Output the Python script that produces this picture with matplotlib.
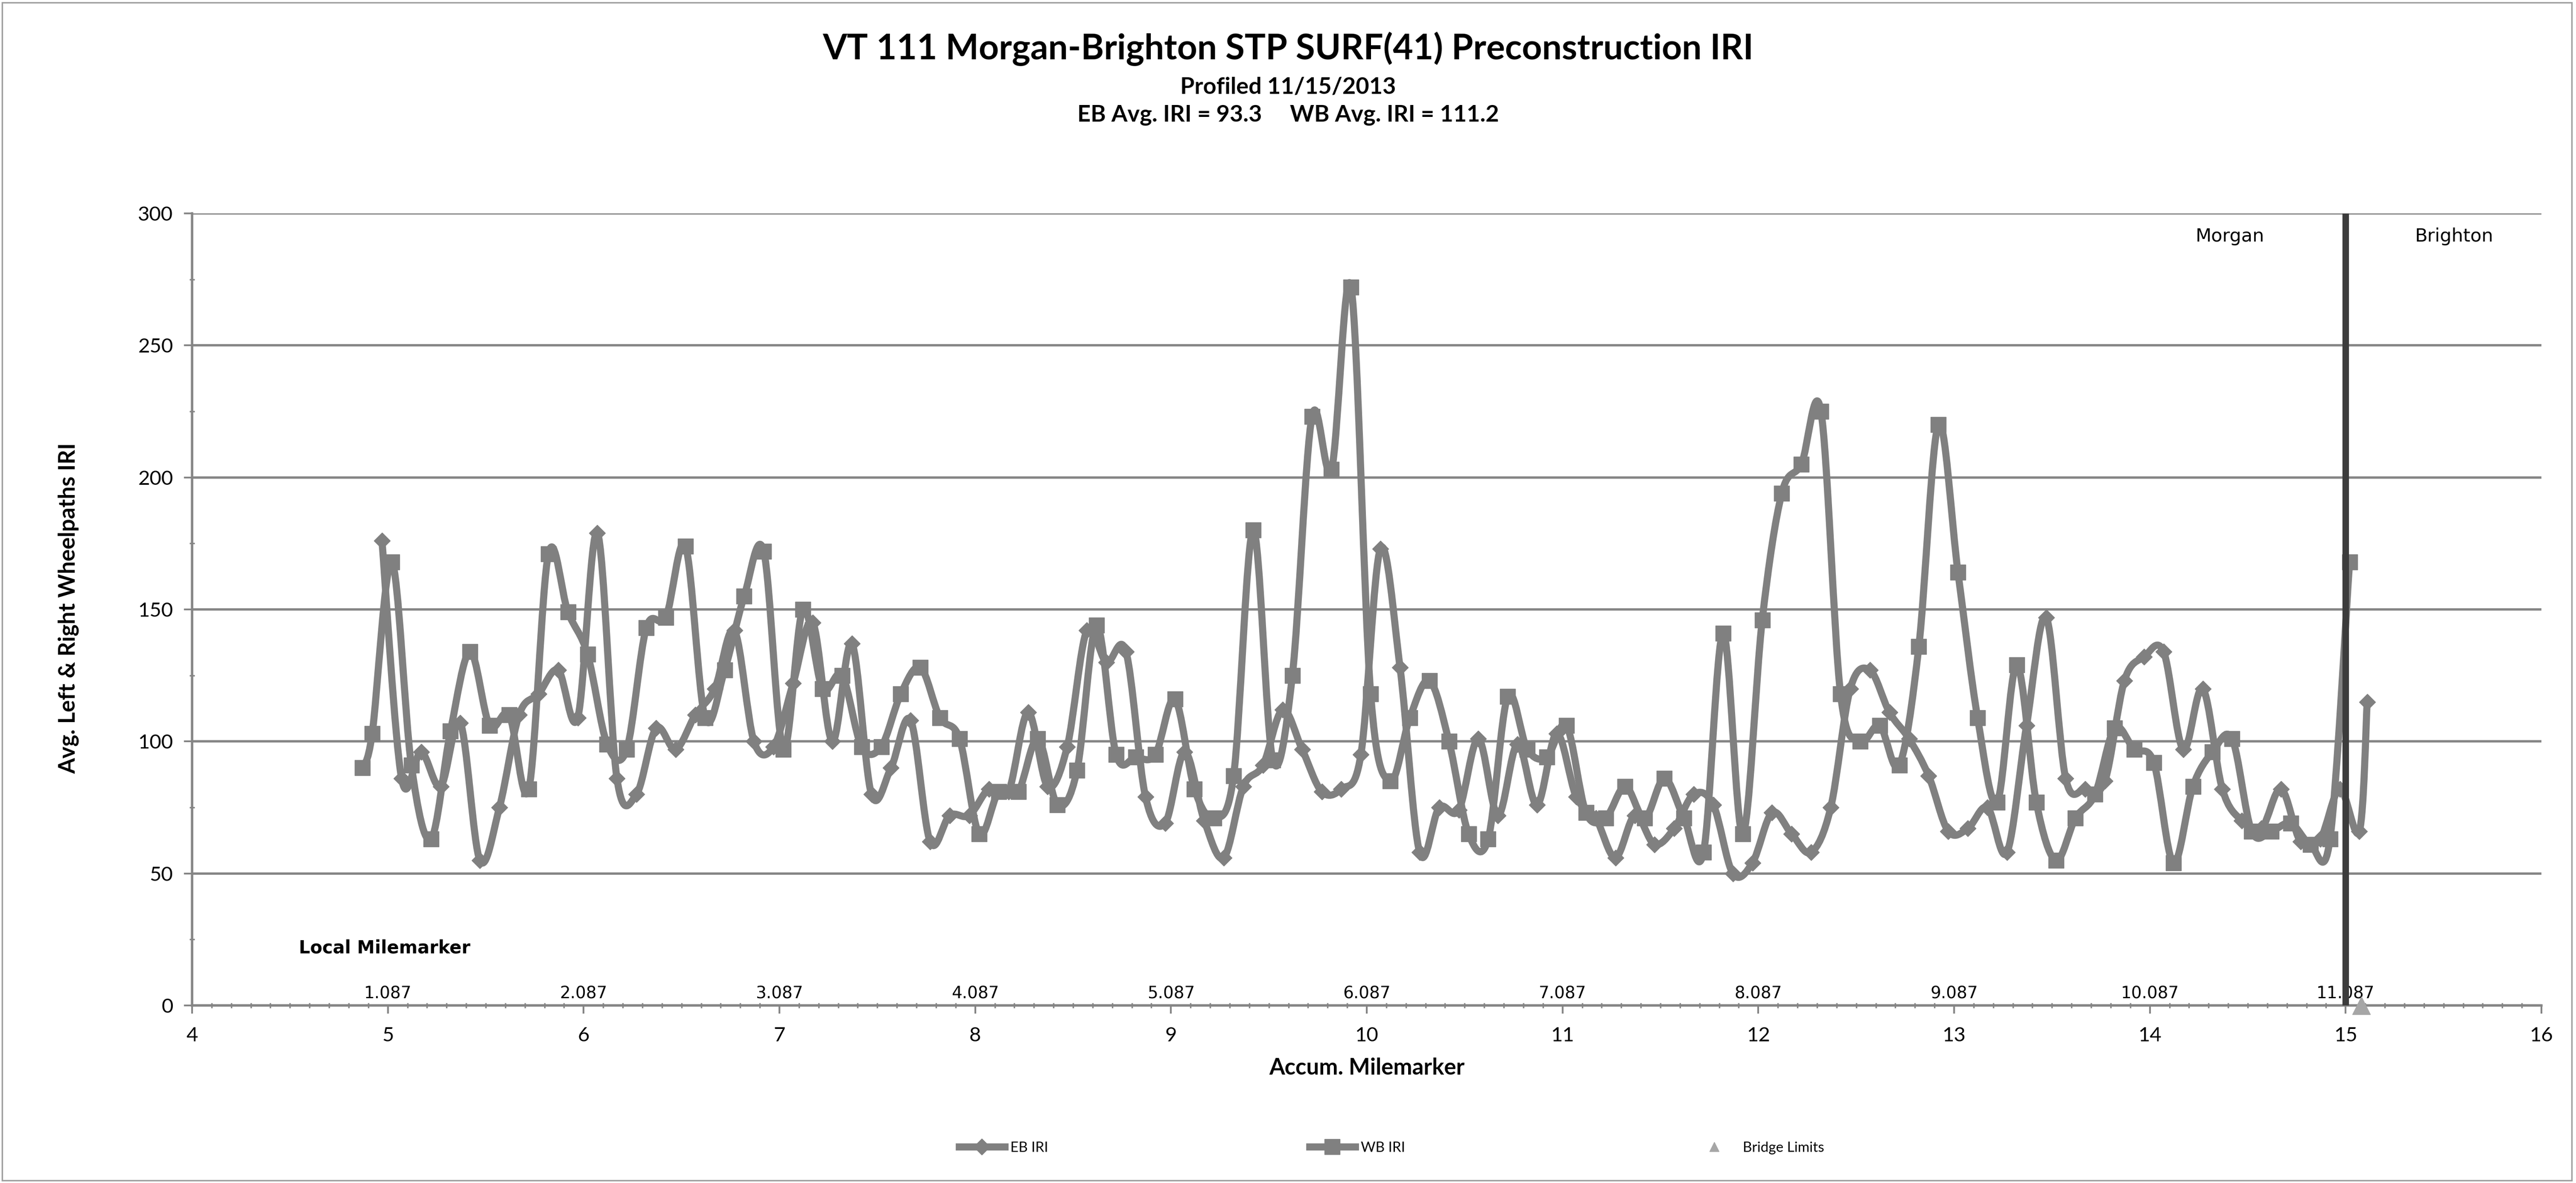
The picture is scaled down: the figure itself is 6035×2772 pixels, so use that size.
import numpy as np
import matplotlib
matplotlib.use('Agg')
import matplotlib.pyplot as plt
from matplotlib.path import Path
from matplotlib.patches import PathPatch, Rectangle
from matplotlib.ticker import MultipleLocator
from matplotlib.lines import Line2D

# ---------------- data ----------------
eb_x = [4.97, 5.07, 5.17, 5.27, 5.37, 5.47, 5.57, 5.67, 5.77, 5.87, 5.97, 6.07, 6.17, 6.27, 6.37, 6.47, 6.57,
        6.67, 6.77, 6.87, 6.97, 7.07, 7.17, 7.27, 7.37, 7.47, 7.57, 7.67, 7.77, 7.87, 7.97, 8.07, 8.17, 8.27,
        8.37, 8.47, 8.57, 8.67, 8.77, 8.87, 8.97, 9.07, 9.17, 9.27, 9.37, 9.47, 9.57, 9.67, 9.77, 9.87, 9.97,
        10.07, 10.17, 10.27, 10.37, 10.47, 10.57, 10.67, 10.77, 10.87, 10.97, 11.07, 11.17, 11.27, 11.37, 11.47, 11.57, 11.67,
        11.77, 11.87, 11.97, 12.07, 12.17, 12.27, 12.37, 12.47, 12.57, 12.67, 12.77, 12.87, 12.97, 13.07, 13.17, 13.27, 13.37,
        13.47, 13.57, 13.67, 13.77, 13.87, 13.97, 14.07, 14.17, 14.27, 14.37, 14.47, 14.57, 14.67, 14.77, 14.87, 14.97, 15.07, 15.11]
eb_iri = [176, 86, 96, 83, 107, 55, 75, 110, 118, 127, 109, 179, 86, 80, 105, 97, 110,
          120, 142, 100, 98, 122, 145, 100, 137, 80, 90, 108, 62, 72, 72, 82, 81, 111,
          83, 98, 142, 130, 134, 79, 69, 96, 70, 56, 83, 91, 112, 97, 81, 82, 95,
          173, 128, 58, 75, 74, 101, 72, 99, 76, 103, 79, 71, 56, 72, 61, 67, 80,
          76, 50, 54, 73, 65, 58, 75, 120, 127, 111, 101, 87, 66, 67, 75, 58, 106,
          147, 86, 82, 85, 123, 132, 134, 97, 120, 82, 70, 67, 82, 62, 63, 82, 66, 115]

wb_x = [4.87, 4.92, 5.02, 5.12, 5.22, 5.32, 5.42, 5.52, 5.62, 5.72, 5.82, 5.92, 6.02, 6.12, 6.22, 6.32, 6.42, 6.52, 6.62,
        6.72, 6.82, 6.92, 7.02, 7.12, 7.22, 7.32, 7.42, 7.52, 7.62, 7.72, 7.82, 7.92, 8.02, 8.12, 8.22, 8.32,
        8.42, 8.52, 8.62, 8.72, 8.82, 8.92, 9.02, 9.12, 9.22, 9.32, 9.42, 9.52, 9.62, 9.72, 9.82, 9.92, 10.02,
        10.12, 10.22, 10.32, 10.42, 10.52, 10.62, 10.72, 10.82, 10.92, 11.02, 11.12, 11.22, 11.32, 11.42, 11.52, 11.62, 11.72,
        11.82, 11.92, 12.02, 12.12, 12.22, 12.32, 12.42, 12.52, 12.62, 12.72, 12.82, 12.92, 13.02, 13.12, 13.22, 13.32, 13.42,
        13.52, 13.62, 13.72, 13.82, 13.92, 14.02, 14.12, 14.22, 14.32, 14.42, 14.52, 14.62, 14.72, 14.82, 14.92, 15.02]
wb_iri = [90, 103, 168, 91, 63, 104, 134, 106, 110, 82, 171, 149, 133, 99, 97, 143, 147, 174, 109,
          127, 155, 172, 97, 150, 120, 125, 98, 98, 118, 128, 109, 101, 65, 81, 81, 101,
          76, 89, 144, 95, 94, 95, 116, 82, 71, 87, 180, 93, 125, 223, 203, 272, 118,
          85, 109, 123, 100, 65, 63, 117, 97, 94, 106, 73, 71, 83, 71, 86, 71, 58,
          141, 65, 146, 194, 205, 225, 118, 100, 106, 91, 136, 220, 164, 109, 77, 129, 77,
          55, 71, 80, 105, 97, 92, 54, 83, 96, 101, 66, 66, 69, 61, 63, 168]

bridge_x = [15.08]
bridge_y = [0]

local_mm_x = [5, 6, 7, 8, 9, 10, 11, 12, 13, 14, 15]
local_mm_labels = ['1.087', '2.087', '3.087', '4.087', '5.087', '6.087', '7.087', '8.087', '9.087', '10.087', '11.087']

town_line_x = 15.0
town_names = ['Morgan', 'Brighton']
town_x = [14.41, 15.555]

x_ticks = [4, 5, 6, 7, 8, 9, 10, 11, 12, 13, 14, 15, 16]
y_ticks = [0, 50, 100, 150, 200, 250, 300]

title = 'VT 111 Morgan-Brighton STP SURF(41) Preconstruction IRI'
subtitle1 = 'Profiled 11/15/2013'
subtitle2 = 'EB Avg. IRI = 93.3     WB Avg. IRI = 111.2'

# ---------------- style ----------------
W, H = 6035, 2772
DPI = 100
FONT = ['Lato', 'DejaVu Sans']
GRAY = '#808080'
GRID = '#858585'

plt.rcParams['font.family'] = FONT

fig = plt.figure(figsize=(W / DPI, H / DPI), dpi=DPI)
fig.patch.set_facecolor('white')
ax = fig.add_axes([450 / W, 1 - 2356 / H, (5954 - 450) / W, (2356 - 500) / H])


def smooth_path(xs, ys):
    pts = np.column_stack([xs, ys]).astype(float)
    n = len(pts)
    verts = [pts[0]]
    codes = [Path.MOVETO]
    for i in range(n - 1):
        p0 = pts[i - 1] if i > 0 else pts[i]
        p1 = pts[i]
        p2 = pts[i + 1]
        p3 = pts[i + 2] if i + 2 < n else pts[i + 1]
        c1 = p1 + (p2 - p0) / 6.0
        c2 = p2 - (p3 - p1) / 6.0
        verts += [c1, c2, p2]
        codes += [Path.CURVE4] * 3
    return Path(verts, codes)


LW = 12
MS_D = 19
MS_S = 26
ax.add_patch(PathPatch(smooth_path(eb_x, eb_iri), fill=False, edgecolor=GRAY, lw=LW,
                       capstyle='round', joinstyle='round', zorder=3))
ax.plot(eb_x, eb_iri, linestyle='none', marker='D', markersize=MS_D, color=GRAY,
        markeredgecolor=GRAY, zorder=4)
ax.add_patch(PathPatch(smooth_path(wb_x, wb_iri), fill=False, edgecolor=GRAY, lw=LW,
                       capstyle='round', joinstyle='round', zorder=5))
ax.plot(wb_x, wb_iri, linestyle='none', marker='s', markersize=MS_S, color=GRAY,
        markeredgecolor=GRAY, zorder=6)
ax.plot(bridge_x, bridge_y, linestyle='none', marker='^', markersize=30, color='#a6a6a6',
        clip_on=False, zorder=7)

ax.vlines(town_line_x, 0, 300, color='#3c3c3c', lw=11, zorder=8)

# axes
ax.set_xlim(4, 16)
ax.set_ylim(0, 300)
ax.set_xticks(x_ticks)
ax.set_yticks(y_ticks)
ax.xaxis.set_minor_locator(MultipleLocator(0.1))
ax.yaxis.set_minor_locator(MultipleLocator(25))
ax.grid(axis='y', which='major', color=GRID, lw=4, zorder=1)
ax.set_axisbelow(True)
for s in ['top', 'right']:
    ax.spines[s].set_visible(False)
for s in ['left', 'bottom']:
    ax.spines[s].set_color(GRID)
    ax.spines[s].set_linewidth(4)
ax.tick_params(axis='both', which='major', labelsize=34, colors=GRID, labelcolor='black',
               width=3, length=14, direction='out')
ax.tick_params(axis='x', which='major', pad=22)
ax.tick_params(axis='y', which='major', pad=18)
ax.tick_params(axis='both', which='minor', colors=GRID, width=2.5, length=9, direction='inout')

# local milemarker labels
for xv, lab in zip(local_mm_x, local_mm_labels):
    ax.annotate(lab, (xv, 0), xytext=(0, 6), textcoords='offset points', ha='center',
                va='bottom', fontsize=28, family='DejaVu Sans', zorder=2)
ax.text(4.545, 21.8, 'Local Milemarker', fontsize=30, fontweight='bold', family='DejaVu Sans',
        ha='left', va='center')
for name, xv in zip(town_names, town_x):
    ax.text(xv, 291.3, name, fontsize=31, family='DejaVu Sans', ha='center', va='center')

# titles
fig.text(0.5, 1 - 115 / H, title, ha='center', va='center', fontsize=59, fontweight='bold')
fig.text(0.5, 1 - 204 / H, subtitle1, ha='center', va='center', fontsize=39, fontweight='bold')
fig.text(0.5, 1 - 270 / H, subtitle2, ha='center', va='center', fontsize=39, fontweight='bold')
fig.text(161 / W, 1 - 1425 / H, 'Avg. Left & Right Wheelpaths IRI', rotation=90, ha='center',
         va='center', fontsize=38, fontweight='bold')
fig.text(3202 / W, 1 - 2502 / H, 'Accum. Milemarker', ha='center', va='center', fontsize=38,
         fontweight='bold')

# legend (three entries)
h_eb = Line2D([], [], color=GRAY, lw=LW, marker='D', markersize=MS_D)
h_wb = Line2D([], [], color=GRAY, lw=LW, marker='s', markersize=MS_S)
h_br = Line2D([], [], color='#a6a6a6', lw=0, marker='^', markersize=16)
for h, lab, xa in [(h_eb, 'EB IRI', 2247), (h_wb, 'WB IRI', 3068), (h_br, 'Bridge Limits', 3963)]:
    fig.legend([h], [lab], loc='center left', bbox_to_anchor=(xa / W, 1 - 2690 / H), frameon=False,
               fontsize=24, handlelength=3.2, handletextpad=0.4, borderpad=0, borderaxespad=0)

fig.add_artist(Rectangle((0.0008, 0.002), 0.9975, 0.996, transform=fig.transFigure, fill=False,
                         edgecolor='#a0a0a0', lw=2.5))

fig.savefig('out.png', dpi=DPI, facecolor='white')
